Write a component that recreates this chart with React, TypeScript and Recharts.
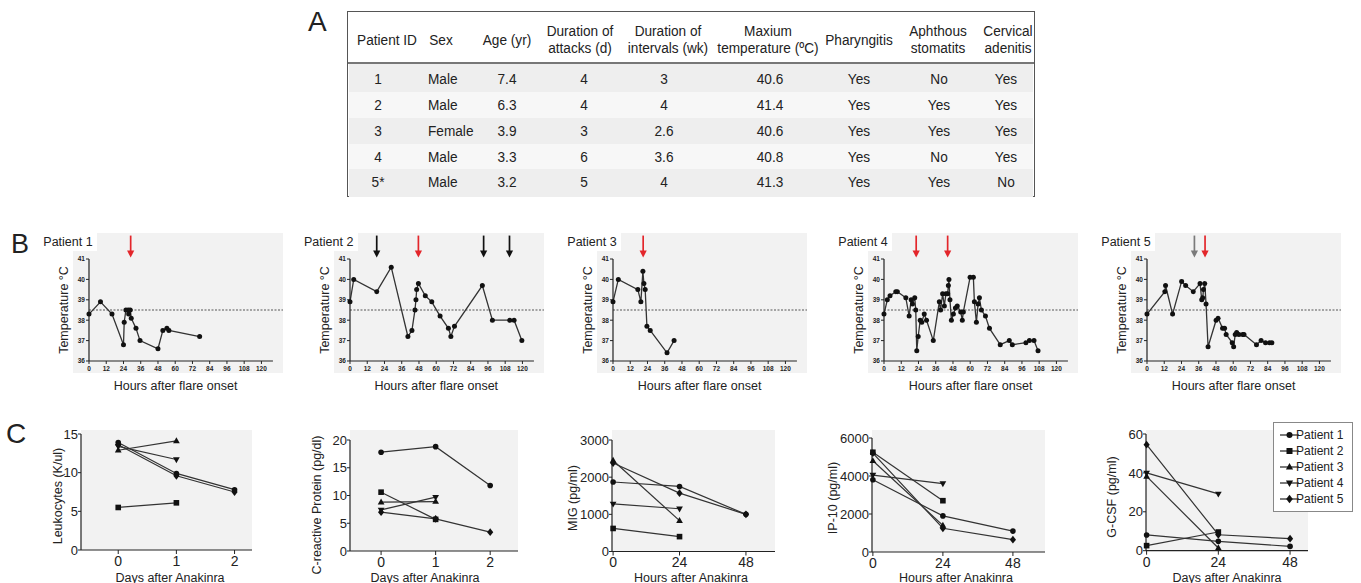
import React from 'react'
import { LineChart, Line, XAxis, YAxis, ReferenceLine, ReferenceDot } from 'recharts'

// ---------- A: patient table ----------
const tableHeaders = [
  ['Patient ID'],
  ['Sex'],
  ['Age (yr)'],
  ['Duration of', 'attacks (d)'],
  ['Duration of', 'intervals (wk)'],
  ['Maxium', 'temperature (ºC)'],
  ['Pharyngitis'],
  ['Aphthous', 'stomatits'],
  ['Cervical', 'adenitis'],
]
const patientIds = ['1', '2', '3', '4', '5*']
const sexes = ['Male', 'Male', 'Female', 'Male', 'Male']
const ages = ['7.4', '6.3', '3.9', '3.3', '3.2']
const attackDays = ['4', '4', '3', '6', '5']
const intervalWeeks = ['3', '4', '2.6', '3.6', '4']
const maxTemps = ['40.6', '41.4', '40.6', '40.8', '41.3']
const pharyngitis = ['Yes', 'Yes', 'Yes', 'Yes', 'Yes']
const stomatitis = ['No', 'Yes', 'Yes', 'No', 'Yes']
const adenitis = ['Yes', 'Yes', 'Yes', 'Yes', 'No']

// ---------- B: temperature curves ----------
const hourTicks = [0, 12, 24, 36, 48, 60, 72, 84, 96, 108, 120]
const tempTicks = [36, 37, 38, 39, 40, 41]
const feverLine = 38.5

const p1Hours = [0, 8, 16, 24, 24.5, 25.7, 27.3, 27.6, 28.7, 29.4, 32.7, 35.5, 48, 51.4, 54.2, 55.6, 77]
const p1Temps = [38.3, 38.9, 38.3, 36.8, 37.9, 38.5, 38.5, 38.3, 38.5, 38.1, 37.6, 37.0, 36.6, 37.5, 37.6, 37.5, 37.2]

const p2Hours = [0, 2.6, 18.6, 28.7, 40.3, 43.1, 45.2, 45.9, 46.4, 47.6, 52.4, 56.9, 62.7, 68.5, 70.2, 72.7, 92.1, 99.1, 111.2, 114.2, 119.6]
const p2Temps = [38.9, 40.0, 39.4, 40.6, 37.2, 37.5, 38.5, 39.0, 39.5, 39.8, 39.2, 38.9, 38.2, 37.6, 37.2, 37.7, 39.7, 38.0, 38.0, 38.0, 37.0]

const p3Hours = [0, 3.7, 17.3, 19.4, 20.8, 21.5, 22.4, 23.6, 25.9, 37.6, 42.5]
const p3Temps = [38.9, 40.0, 39.5, 38.9, 40.4, 39.8, 39.5, 37.7, 37.5, 36.4, 37.0]

const p4Hours = [
  0, 2.3, 4.2, 8.2, 9.3, 15.2, 17.5, 18.9, 19.8, 21.4, 22.1, 22.8, 23.8, 25.2, 26.3, 28.0, 29.6, 34.3, 38.5, 39.4,
  40.8, 42.0, 43.1, 44.3, 44.8, 45.2, 45.9, 46.9, 48.3, 49.7, 51.0, 53.4, 54.5, 55.2, 59.9, 62.2, 62.9, 64.3, 65.5, 66.4,
  67.8, 70.6, 73.4, 80.9, 87.2, 89.3, 98.8, 101.2, 104.4, 107.2,
]
const p4Temps = [
  38.3, 39.0, 39.2, 39.4, 39.4, 39.1, 38.2, 39.0, 38.8, 39.1, 38.5, 36.5, 37.2, 38.0, 37.9, 38.3, 38.0, 37.0, 38.9, 38.5,
  39.3, 38.7, 39.3, 39.3, 39.7, 40.0, 39.0, 38.0, 38.3, 38.6, 38.7, 38.4, 38.0, 38.4, 40.1, 40.1, 38.9, 37.9, 38.8, 39.1,
  38.5, 38.2, 37.6, 36.8, 37.0, 36.8, 36.9, 37.0, 37.0, 36.5,
]

const p5Hours = [
  0, 12.4, 12.9, 17.8, 24.1, 26.9, 32.2, 36.9, 38.1, 38.8, 39.3, 40.2, 41.1, 42.5, 48.1, 49.5, 52.6, 54.0, 55.1, 59.3,
  60.3, 61.4, 62.4, 64.0, 66.6, 67.5, 76.2, 79.4, 82.5, 85.3, 86.9,
]
const p5Temps = [
  38.3, 39.4, 39.7, 38.3, 39.9, 39.7, 39.4, 39.8, 39.0, 39.1, 39.5, 39.8, 38.8, 36.7, 38.0, 38.1, 37.6, 37.6, 37.3, 36.9,
  36.7, 37.3, 37.4, 37.3, 37.3, 37.3, 36.8, 37.0, 36.9, 36.9, 36.9,
]

// arrows above the curves (hour of dose, arrow colour)
const p1Arrows = [29]
const p1ArrowColors = ['red']
const p2Arrows = [18.6, 47.6, 93, 111]
const p2ArrowColors = ['black', 'red', 'black', 'black']
const p3Arrows = [21]
const p3ArrowColors = ['red']
const p4Arrows = [22.4, 44.3]
const p4ArrowColors = ['red', 'red']
const p5Arrows = [33, 40.4]
const p5ArrowColors = ['gray', 'red']

// ---------- C: lab values, one list per patient ----------
const patientNames = ['Patient 1', 'Patient 2', 'Patient 3', 'Patient 4', 'Patient 5']
const markerShapes = ['circle', 'square', 'triangle', 'invTriangle', 'diamond']

const anakinraDays = [0, 1, 2]
const anakinraHours = [0, 24, 48]

const leukocytes = [[13.9, 9.9, 7.8], [5.5, 6.1], [12.9, 14.1], [13.4, 11.7], [13.6, 9.6, 7.5]]
const crp = [[17.8, 18.8, 11.8], [10.6, 5.7], [8.8, 8.9], [7.4, 9.7], [7.0, 5.8, 3.4]]
const mig = [[1870, 1750, 1000], [620, 400], [2450, 830], [1280, 1150], [2380, 1570, 1000]]
const ip10 = [[3800, 1900, 1100], [5250, 2700], [4800, 1400], [4050, 3600], [5200, 1250, 650]]
const gcsf = [[8.1, 4.8, 2.2], [2.6, 9.6], [38.2, 1.4], [40, 29.2], [54.5, 8.2, 6.2]]

const ARROW = { red: '#e3262b', black: '#111111', gray: '#7a7a7a' }
const INK = '#222'
const LINE = '#333'
const PANEL_BG = '#f2f2f2'
const FONT = '"Liberation Sans", Arial, Helvetica, sans-serif'

function Txt({ x, y, size, children, align = 'center', rotate = false, squeeze = 1, weight = 400 }: any) {
  const tx = align === 'center' ? '-50%' : '0'
  return (
    <div
      style={{
        position: 'absolute',
        left: x,
        top: y,
        fontSize: size,
        lineHeight: 1,
        fontFamily: FONT,
        fontWeight: weight,
        whiteSpace: 'nowrap',
        color: INK,
        transform: `translate(${tx}, -50%)${rotate ? ' rotate(-90deg)' : ''}${squeeze !== 1 ? ` scaleX(${squeeze})` : ''}`,
        transformOrigin: align === 'center' ? '50% 50%' : '0 50%',
      }}
    >
      {children}
    </div>
  )
}

function marker(shape: string, cx: number, cy: number, s: number, key?: string) {
  if (shape === 'square') return <rect key={key} x={cx - s} y={cy - s} width={2 * s} height={2 * s} fill="#111" />
  if (shape === 'triangle')
    return <polygon key={key} points={`${cx},${cy - s * 1.3} ${cx - s * 1.2},${cy + s * 0.8} ${cx + s * 1.2},${cy + s * 0.8}`} fill="#111" />
  if (shape === 'invTriangle')
    return <polygon key={key} points={`${cx},${cy + s * 1.3} ${cx - s * 1.2},${cy - s * 0.8} ${cx + s * 1.2},${cy - s * 0.8}`} fill="#111" />
  if (shape === 'diamond')
    return <polygon key={key} points={`${cx},${cy - s * 1.4} ${cx + s * 1.1},${cy} ${cx},${cy + s * 1.4} ${cx - s * 1.1},${cy}`} fill="#111" />
  return <circle key={key} cx={cx} cy={cy} r={s} fill="#111" />
}

// ---------- Table ----------
const headerCenters = [387, 441, 507, 580, 668, 768, 859, 938, 1008]
const cellCenters = [378, 428, 507, 584, 664, 770, 859, 939, 1006]
const rowCenters = [79, 105, 131, 157, 182]
const rowBands = [63, 92, 118, 144, 169, 197]
const SQ = 0.88
const TABLE_FS = 15.5

function PatientTable() {
  const columns = [patientIds, sexes, ages, attackDays, intervalWeeks, maxTemps, pharyngitis, stomatitis, adenitis]
  return (
    <>
      <div style={{ position: 'absolute', left: 347, top: 11, width: 688, height: 186, border: '1.5px solid #555', boxSizing: 'border-box', background: '#fff' }} />
      {rowCenters.map((_, i) => (
        <div
          key={'band' + i}
          style={{
            position: 'absolute',
            left: 349,
            top: rowBands[i],
            width: 684,
            height: rowBands[i + 1] - rowBands[i],
            background: i % 2 === 0 ? '#eeeeee' : '#f7f7f7',
          }}
        />
      ))}
      <div style={{ position: 'absolute', left: 348, top: 62, width: 686, height: 1.5, background: '#777' }} />
      {tableHeaders.map((lines, c) =>
        lines.length === 1 ? (
          <Txt key={'h' + c} x={headerCenters[c]} y={40} size={TABLE_FS} squeeze={SQ}>{lines[0]}</Txt>
        ) : (
          lines.map((ln, k) => (
            <Txt key={'h' + c + k} x={headerCenters[c]} y={31 + k * 17} size={TABLE_FS} squeeze={SQ}>{ln}</Txt>
          ))
        )
      )}
      {columns.map((col, c) =>
        col.map((v, r) => (
          <Txt key={'c' + c + r} x={cellCenters[c]} y={rowCenters[r]} size={TABLE_FS} squeeze={SQ} align={c === 1 ? 'left' : 'center'}>
            {v}
          </Txt>
        ))
      )}
    </>
  )
}

// ---------- Temperature panel ----------
const PX_PER_HOUR = 1.437
const B_PLOT_W = 128 * PX_PER_HOUR
const B_PLOT_H = 102
const B_YAXIS_W = 36
const B_TOP = 30
const B_RIGHT = 16
const B_XAXIS_H = 18

function ArrowShape(color: string) {
  return (props: any) => {
    const { cx, cy } = props
    return (
      <g>
        <line x1={cx} y1={cy - 22} x2={cx} y2={cy - 6} stroke={color} strokeWidth={1.7} />
        <polygon points={`${cx - 3.6},${cy - 7} ${cx + 3.6},${cy - 7} ${cx},${cy}`} fill={color} />
      </g>
    )
  }
}

function TempPanel({ label, hours, temps, arrows, arrowColors, plotLeft, plotTop }: any) {
  const rows = hours.map((h: number, i: number) => ({ h, t: temps[i] }))
  const tick = { fontSize: 6.5, fontWeight: 700, fill: INK, fontFamily: FONT }
  return (
    <>
      <div style={{ position: 'absolute', left: plotLeft - 16, top: 233, width: B_PLOT_W + 26, height: 140, background: PANEL_BG }} />
      <div style={{ position: 'absolute', left: plotLeft - 50, top: 231, width: 58, height: 20, background: '#fff' }} />
      <Txt x={plotLeft - 46} y={242} size={12.5} align="left">{label}</Txt>
      <div style={{ position: 'absolute', left: plotLeft - B_YAXIS_W, top: plotTop - B_TOP }}>
        <LineChart
          width={B_YAXIS_W + B_PLOT_W + B_RIGHT}
          height={B_TOP + B_PLOT_H + B_XAXIS_H}
          data={rows}
          margin={{ top: B_TOP, right: B_RIGHT, left: 0, bottom: 0 }}
        >
          <XAxis
            type="number"
            dataKey="h"
            domain={[0, 128]}
            ticks={hourTicks}
            height={B_XAXIS_H}
            tick={tick}
            tickSize={3}
            tickMargin={2}
            interval={0}
            axisLine={{ stroke: INK, strokeWidth: 1.2 }}
            tickLine={{ stroke: INK }}
          />
          <YAxis
            type="number"
            domain={[36, 41]}
            ticks={tempTicks}
            width={B_YAXIS_W}
            tick={tick}
            tickSize={3}
            tickMargin={1}
            interval={0}
            axisLine={{ stroke: INK, strokeWidth: 1.2 }}
            tickLine={{ stroke: INK }}
          />
          <ReferenceLine
            segment={[{ x: 0, y: feverLine }, { x: 135, y: feverLine }]}
            ifOverflow="visible"
            stroke="#555"
            strokeDasharray="2 1.5"
            strokeWidth={1.1}
          />
          <Line
            dataKey="t"
            stroke={LINE}
            strokeWidth={1.3}
            dot={{ r: 2.5, fill: '#111', stroke: '#111', strokeWidth: 0 }}
            isAnimationActive={false}
          />
          {arrows.map((h: number, i: number) => (
            <ReferenceDot
              key={'a' + i}
              x={h}
              y={41.07}
              ifOverflow="visible"
              shape={ArrowShape((ARROW as any)[arrowColors[i]])}
            />
          ))}
        </LineChart>
      </div>
      <Txt x={plotLeft - 25} y={plotTop + 51} size={12.5} rotate>Temperature °C</Txt>
      <Txt x={plotLeft + 60 * PX_PER_HOUR} y={386} size={12.5}>Hours after flare onset</Txt>
    </>
  )
}

// ---------- Lab panel ----------
const C_YAXIS_W = 40
const C_TOP = 8
const C_RIGHT = 8
const C_XAXIS_H = 22

function LabPanel({ xs, series, domainX, domainY, ticksY, plotLeft, plotTop, plotW, plotH, yLabel, yLabelX, yLabelY, xLabel, xLabelX }: any) {
  const rows = xs.map((x: number, i: number) => {
    const r: any = { x }
    series.forEach((s: number[], k: number) => {
      r['p' + k] = s[i] ?? null
    })
    return r
  })
  return (
    <>
      <div style={{ position: 'absolute', left: plotLeft, top: 430, width: plotW, height: plotTop + plotH - 430, background: PANEL_BG }} />
      <div style={{ position: 'absolute', left: plotLeft - C_YAXIS_W, top: plotTop - C_TOP }}>
        <LineChart
          width={C_YAXIS_W + plotW + C_RIGHT}
          height={C_TOP + plotH + C_XAXIS_H}
          data={rows}
          margin={{ top: C_TOP, right: C_RIGHT, left: 0, bottom: 0 }}
        >
          <XAxis
            type="number"
            dataKey="x"
            domain={domainX}
            ticks={xs}
            height={C_XAXIS_H}
            tick={{ fontSize: 14, fill: INK, fontFamily: FONT }}
            tickSize={4}
            tickMargin={2}
            interval={0}
            axisLine={{ stroke: INK, strokeWidth: 1.2 }}
            tickLine={{ stroke: INK }}
          />
          <YAxis
            type="number"
            domain={domainY}
            ticks={ticksY}
            width={C_YAXIS_W}
            tick={{ fontSize: 13, fill: INK, fontFamily: FONT }}
            tickSize={3}
            tickMargin={0}
            interval={0}
            axisLine={{ stroke: INK, strokeWidth: 1.2 }}
            tickLine={{ stroke: INK }}
          />
          {series.map((_: any, k: number) => (
            <Line
              key={'s' + k}
              dataKey={'p' + k}
              stroke={LINE}
              strokeWidth={1.2}
              connectNulls={false}
              isAnimationActive={false}
              dot={(p: any) =>
                p.cx == null || p.cy == null || p.value == null ? (
                  <g key={'d' + k + '-' + p.index} />
                ) : (
                  marker(markerShapes[k], p.cx, p.cy, 2.8, 'd' + k + '-' + p.index)
                )
              }
            />
          ))}
        </LineChart>
      </div>
      <Txt x={yLabelX} y={yLabelY} size={12.5} rotate>{yLabel}</Txt>
      <Txt x={xLabelX} y={577.5} size={12.5}>{xLabel}</Txt>
    </>
  )
}

function LabLegend() {
  return (
    <div style={{ position: 'absolute', left: 1273, top: 422, width: 80, height: 90, border: '1px solid #888', boxSizing: 'border-box', background: '#fff' }}>
      {patientNames.map((name, i) => (
        <div key={name} style={{ position: 'absolute', left: 0, top: 4 + i * 16, height: 16, width: 80 }}>
          <svg width={22} height={16} style={{ position: 'absolute', left: 5, top: 0 }}>
            <line x1={1} y1={8} x2={20} y2={8} stroke={LINE} strokeWidth={1.3} />
            {marker(markerShapes[i], 10.5, 8, 3)}
          </svg>
          <div style={{ position: 'absolute', left: 22, top: 1, fontSize: 12, lineHeight: '14px', fontFamily: FONT, color: INK, whiteSpace: 'nowrap' }}>
            {name}
          </div>
        </div>
      ))}
    </div>
  )
}

export default function App() {
  return (
    <div style={{ position: 'absolute', left: 0, top: 0, width: 1361, height: 583, background: '#fff', overflow: 'hidden', fontFamily: FONT }}>
      <Txt x={308} y={22} size={28} align="left">A</Txt>
      <Txt x={11} y={244} size={27} align="left">B</Txt>
      <Txt x={6} y={434} size={28} align="left">C</Txt>

      <PatientTable />

      <TempPanel label="Patient 1" hours={p1Hours} temps={p1Temps} arrows={p1Arrows} arrowColors={p1ArrowColors} plotLeft={89.3} plotTop={259.3} />
      <TempPanel label="Patient 2" hours={p2Hours} temps={p2Temps} arrows={p2Arrows} arrowColors={p2ArrowColors} plotLeft={350} plotTop={259.3} />
      <TempPanel label="Patient 3" hours={p3Hours} temps={p3Temps} arrows={p3Arrows} arrowColors={p3ArrowColors} plotLeft={613.3} plotTop={258.5} />
      <TempPanel label="Patient 4" hours={p4Hours} temps={p4Temps} arrows={p4Arrows} arrowColors={p4ArrowColors} plotLeft={884.3} plotTop={259.3} />
      <TempPanel label="Patient 5" hours={p5Hours} temps={p5Temps} arrows={p5Arrows} arrowColors={p5ArrowColors} plotLeft={1147.3} plotTop={259.3} />

      <LabPanel xs={anakinraDays} series={leukocytes} domainX={[-0.64, 2.3]} domainY={[0, 15]} ticksY={[0, 5, 10, 15]}
        plotLeft={81} plotTop={434} plotW={171} plotH={116}
        yLabel="Leukocytes (K/ul)" yLabelX={58} yLabelY={496} xLabel="Days after Anakinra" xLabelX={170} />
      <LabPanel xs={anakinraDays} series={crp} domainX={[-0.57, 2.51]} domainY={[0, 20]} ticksY={[0, 5, 10, 15, 20]}
        plotLeft={350} plotTop={440} plotW={168} plotH={111}
        yLabel="C-reactive Protein (pg/dl)" yLabelX={317} yLabelY={505} xLabel="Days after Anakinra" xLabelX={425} />
      <LabPanel xs={anakinraHours} series={mig} domainX={[-0.4, 58.5]} domainY={[0, 3000]} ticksY={[0, 1000, 2000, 3000]}
        plotLeft={611.7} plotTop={440} plotW={163} plotH={111.5}
        yLabel="MIG (pg/ml)" yLabelX={573} yLabelY={498} xLabel="Hours after Anakinra" xLabelX={691} />
      <LabPanel xs={anakinraHours} series={ip10} domainX={[-0.3, 59]} domainY={[0, 6000]} ticksY={[0, 2000, 4000, 6000]}
        plotLeft={871.7} plotTop={437.7} plotW={173} plotH={114}
        yLabel="IP-10 (pg/ml)" yLabelX={833} yLabelY={498} xLabel="Hours after Anakinra" xLabelX={956} />
      <LabPanel xs={anakinraHours} series={gcsf} domainX={[-0.2, 54]} domainY={[0, 60]} ticksY={[0, 20, 40, 60]}
        plotLeft={1146} plotTop={434.3} plotW={162} plotH={116.7}
        yLabel="G-CSF (pg/ml)" yLabelX={1112} yLabelY={497} xLabel="Days after Anakinra" xLabelX={1227} />

      <LabLegend />
    </div>
  )
}
